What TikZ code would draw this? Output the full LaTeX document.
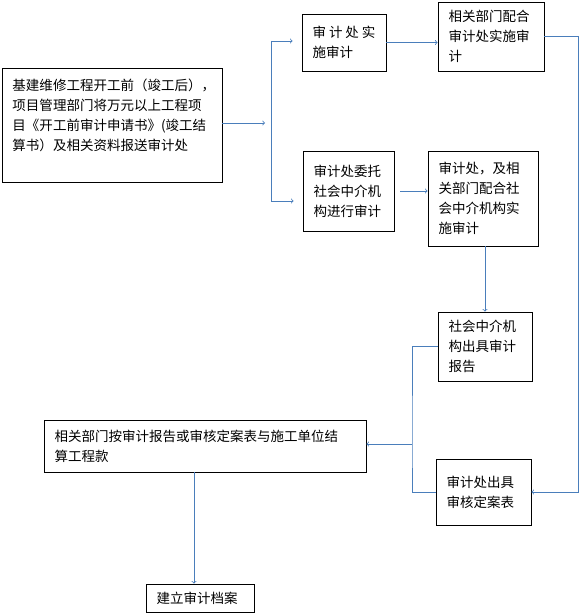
\documentclass[tikz,border=0pt]{standalone}
\usepackage{fontspec}
\setmainfont{Noto Sans CJK SC}
\usepackage{tikz}
\usetikzlibrary{arrows}
\definecolor{lineblue}{HTML}{4A7EBB}
\tikzset{
  box/.style={draw=black, line width=0.8pt, align=left, inner xsep=10.5pt, inner ysep=0pt,
    font=\fontsize{13.5}{20}\selectfont},
  flow/.style={draw=lineblue, line width=0.8pt},
  flowarr/.style={flow, ->},
}

\begin{document}
\begin{tikzpicture}[x=1pt,y=-1pt]
	\useasboundingbox (0,0) rectangle (579,615);
	% boxes
	\node[box, minimum width=220pt, minimum height=114pt, text width=199pt] (start) at (112,125)
		{基建维修工程开工前（竣工后），\\项目管理部门将万元以上工程项\\目《开工前审计申请书》(竣工结\\算书）及相关资料报送审计处\\ ~};
	\node[box, minimum width=84pt, minimum height=57pt, text width=63pt] (self) at (344,42.5)
		{审\hspace{3pt}计\hspace{3pt}处\hspace{3pt}实\\施审计};
	\node[box, minimum width=106pt, minimum height=69pt, text width=85pt] (selfdept) at (491,36.5)
		{相关部门配合\\审计处实施审\\计};
	\node[box, minimum width=91pt, minimum height=80pt, text width=70pt] (agent) at (348.5,191)
		{审计处委托\\社会中介机\\构进行审计};
	\node[box, minimum width=110pt, minimum height=95pt, text width=89pt] (agentdept) at (483,198.5)
		{审计处，及相\\关部门配合社\\会中介机构实\\施审计};
	\node[box, minimum width=94pt, minimum height=69pt, text width=73pt] (report) at (485,346.5)
		{社会中介机\\构出具审计\\报告};
	\node[box, minimum width=95pt, minimum height=66pt, text width=74pt] (table) at (483.5,492)
		{审计处出具\\审核定案表\\[10pt]};
	\node[box, minimum width=322pt, minimum height=52pt, text width=301pt] (settle) at (205,446)
		{相关部门按审计报告或审核定案表与施工单位结\\算工程款};
	\node[box, minimum width=108pt, minimum height=28pt, text width=87pt] (archive) at (200,598)
		{建立审计档案};
	% connectors
	\coordinate (split) at (271,123);
	\coordinate (splittop) at (271,41);
	\coordinate (splitbot) at (271,201);
	\coordinate (rightturn) at (578,36.5);
	\coordinate (leftjoin) at (412,444);
	\coordinate (down) at (194,472);
	\draw[flowarr, shorten >=6pt] (start.east |- split) -- (split);
	\draw[flow] (splittop) -- (splitbot);
	\draw[flowarr, shorten >=9pt] (splittop) -- (splittop -| self.west);
	\draw[flowarr, shorten >=9pt] (splitbot) -- (splitbot -| agent.west);
	\draw[flowarr] (self.east) -- (self.east -| selfdept.west);
	\draw[flowarr] (selfdept.east) -- (rightturn) |- (table.east);
	\draw[flowarr, shorten <=6pt] (agent.east) -- (agent.east -| agentdept.west);
	\draw[flowarr] (agentdept.south -| report.north) -- (report.north);
	\draw[flow] (report.west) -| (leftjoin) |- (table.west);
	\draw[flowarr] (leftjoin) -- (leftjoin -| settle.east);
	\draw[flowarr] (down) -- (down |- archive.north);
\end{tikzpicture}
\end{document}
